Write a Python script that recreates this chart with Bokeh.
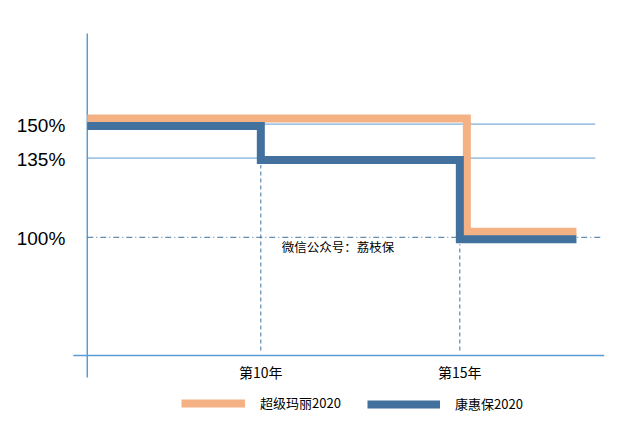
from bokeh.plotting import figure
from bokeh.models import Legend, LegendItem
from bokeh.core.properties import value
from bokeh.embed import file_html
from bokeh.resources import INLINE

# data
series_names = ["超级玛丽2020", "康惠保2020"]
cjml_breaks = [15]
cjml_values = [150, 100]
khb_breaks = [10, 15]
khb_values = [150, 135, 100]
y_ticks = [150, 135, 100]
y_tick_labels = ["150%", "135%", "100%"]
x_ticks = [10, 15]
x_tick_labels = ["第10年", "第15年"]
watermark = "微信公众号：荔枝保"

# drawing extents (years / percent)
line_start, line_end = 5.64, 17.93
axis_x, axis_y = 5.64, 47.8

ORANGE = "#F4B183"
BLUE = "#41719C"
LIGHT = "#5B9BD5"
CJK_NAME = "Noto Sans CJK SC"
CJK = value(CJK_NAME)

W, H = 607, 429
x0, x1 = 3.46, 18.71
y0, y1 = 15.1, 204.6
p = figure(width=W, height=H, x_range=(x0, x1), y_range=(y0, y1),
           output_backend="svg", toolbar_location=None, title=None,
           min_border=0, outline_line_color=None)
p.axis.visible = False
p.grid.visible = False

# pixel -> data helpers
dx = lambda n: n * (x1 - x0) / W
dy = lambda n: n * (y1 - y0) / H


def step_path(breaks, values, xoff, yoff):
    xs, ys = [line_start], [values[0] + yoff]
    for b, v_prev, v_next in zip(breaks, values[:-1], values[1:]):
        xs += [b + xoff, b + xoff]
        ys += [v_prev + yoff, v_next + yoff]
    xs.append(line_end)
    ys.append(values[-1] + yoff)
    return xs, ys


# axis lines
p.segment(x0=[axis_x], y0=[axis_y - dy(22)], x1=[axis_x], y1=[axis_y + dy(322)],
          line_color=LIGHT, line_width=1.5)
p.segment(x0=[axis_x - dx(14)], y0=[axis_y], x1=[axis_x + dx(517)], y1=[axis_y],
          line_color=LIGHT, line_width=1.5)

# reference lines
for t in y_ticks:
    if t == 100:
        p.segment(x0=[axis_x], y0=[t], x1=[axis_x + dx(513)], y1=[t],
                  line_color=BLUE, line_width=1, line_dash="6 3 1 3")
    else:
        p.segment(x0=[axis_x], y0=[t], x1=[axis_x + dx(508)], y1=[t],
                  line_color=LIGHT, line_width=1)

# vertical dashed markers below the blue steps
for b, v in zip(khb_breaks, khb_values[1:]):
    p.segment(x0=[b], y0=[axis_y + dy(5)], x1=[b], y1=[v - dy(7)],
              line_color=BLUE, line_width=1, line_dash="4 3")

xs, ys = step_path(cjml_breaks, cjml_values, dx(7), dy(5.5))
r_orange = p.line(xs, ys, line_color=ORANGE, line_width=8, line_join="miter", line_cap="butt")
xs, ys = step_path(khb_breaks, khb_values, 0, -dy(2))
r_blue = p.line(xs, ys, line_color=BLUE, line_width=8, line_join="miter", line_cap="butt")

# tick labels
p.text(x=[axis_x] * len(y_ticks), y=y_ticks, text=y_tick_labels, x_offset=-22, y_offset=1,
       text_align="right", text_baseline="middle", text_font=value("Liberation Sans"),
       text_font_size="19px", text_color="#000000")
p.text(x=x_ticks, y=[axis_y] * len(x_ticks), text=x_tick_labels, y_offset=17,
       text_align="center", text_baseline="middle", text_font=CJK,
       text_font_size="14px", text_color="#000000")

p.text(x=[10], y=[100], text=[watermark], x_offset=21, y_offset=9,
       text_align="left", text_baseline="middle", text_font=CJK,
       text_font_size="12.5px", text_color="#000000")

legend_style = dict(orientation="horizontal", padding=0, margin=0, glyph_height=16,
                    label_height=16, label_standoff=15, label_text_font=CJK_NAME,
                    label_text_font_size="13px", label_text_color="#000000",
                    border_line_color=None, background_fill_alpha=0)
p.add_layout(Legend(items=[LegendItem(label=series_names[0], renderers=[r_orange])],
                    location=(181, 17), glyph_width=64, **legend_style))
p.add_layout(Legend(items=[LegendItem(label=series_names[1], renderers=[r_blue])],
                    location=(367, 16), glyph_width=73, **legend_style))

open("out.html", "w").write(file_html(p, INLINE))
